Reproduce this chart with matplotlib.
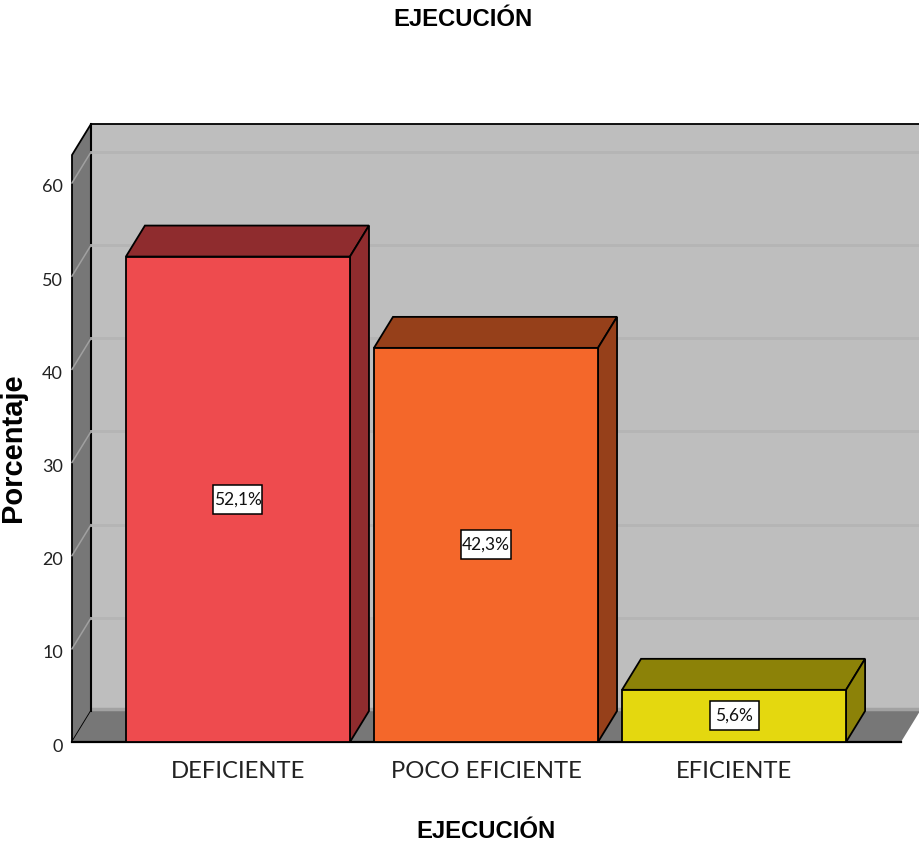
import matplotlib
matplotlib.use("Agg")
import matplotlib.pyplot as plt
from matplotlib.patches import Polygon, Rectangle
from matplotlib.transforms import ScaledTranslation

categories = ['DEFICIENTE', 'POCO EFICIENTE', 'EFICIENTE']
values = [52.1, 42.3, 5.6]
value_labels = ['52,1%', '42,3%', '5,6%']
front_colors = ['#EE4B4E', '#F4672A', '#E4D80F']
side_colors = ['#8F2C2E', '#96401A', '#8C8208']
y_ticks = [0, 10, 20, 30, 40, 50, 60]

thin = 'Lato'
W, H = 919, 852

# depth of the fake 3d box, in data units
dx = 19 / 248
dy = 31 / 9.32
bar_w = 224 / 248
xmin, xmax = -0.669, 2.673
ymax = 63
box_w = 49 / 248
box_h = 29 / 9.32


def poly(ax, pts, color, z, edge='black', lw=1.3):
    ax.add_patch(Polygon(pts, closed=True, facecolor=color, edgecolor=edge,
                         linewidth=lw, zorder=z, clip_on=False))


fig = plt.figure(figsize=(W / 100, H / 100), dpi=100)
ax = fig.add_axes([72 / W, (H - 742) / H, (901 - 72) / W, (742 - 155) / H])
ax.set_xlim(xmin, xmax)
ax.set_ylim(0, ymax)
for s in ax.spines.values():
    s.set_visible(False)
ax.patch.set_visible(False)

# walls and floor
poly(ax, [(xmin + dx, dy), (xmax + dx, dy), (xmax + dx, ymax + dy), (xmin + dx, ymax + dy)], '#BEBEBE', 1, edge='none')
poly(ax, [(xmin, 0), (xmin + dx, dy), (xmin + dx, ymax + dy), (xmin, ymax)], '#777777', 2)
poly(ax, [(xmin, 0), (xmax, 0), (xmax + dx, dy), (xmin + dx, dy)], '#777777', 2, edge='none')
ax.plot([xmin + dx, xmax + dx], [dy + 0.25, dy + 0.25], color='#A2A2A2', lw=2.5, zorder=3, clip_on=False, solid_capstyle='butt')
ax.plot([xmin, xmax], [0, 0], color='black', lw=1.6, zorder=3, clip_on=False)
ax.plot([xmin + dx, xmax + dx], [ymax + dy, ymax + dy], color='black', lw=1.3, zorder=3, clip_on=False)
ax.plot([xmin + dx, xmin + dx], [dy, ymax + dy], color='black', lw=1.5, zorder=3, clip_on=False)

# gridlines, back wall plus the slanted bit on the side wall
for t in y_ticks[1:]:
    ax.plot([xmin + dx, xmax + dx], [t + dy, t + dy], color='#B5B5B5', lw=2, zorder=3, clip_on=False)
    ax.plot([xmin, xmin + dx], [t, t + dy], color='#A0A0A0', lw=1.1, zorder=3, clip_on=False)

# bars
pos = list(range(len(categories)))
ax.bar(pos, values, width=bar_w, color=front_colors, edgecolor='black', linewidth=1.3, zorder=6)
for i, v in enumerate(values):
    l = i - bar_w / 2
    r = i + bar_w / 2
    poly(ax, [(l, v), (r, v), (r + dx, v + dy), (l + dx, v + dy)], side_colors[i], 5)
    poly(ax, [(r, 0), (r + dx, dy), (r + dx, v + dy), (r, v)], side_colors[i], 5)
    ax.add_patch(Rectangle((i - box_w / 2, v / 2 - box_h / 2), box_w, box_h, facecolor='white',
                           edgecolor='black', linewidth=1.1, zorder=7))
    ax.text(i, v / 2, value_labels[i], ha='center', va='center', fontsize=12.5, family=thin,
            color='#111111', zorder=8)

ax.set_xticks(pos)
ax.set_xticklabels(categories, fontsize=17.2, family=thin, color='#222222')
ax.set_yticks(y_ticks)
ax.set_yticklabels([str(t) for t in y_ticks], fontsize=13, family=thin, color='#222222')
ax.tick_params(axis='both', length=0)
ax.tick_params(axis='x', pad=14)
ax.tick_params(axis='y', pad=6.5)
for lab in ax.get_yticklabels():
    lab.set_transform(lab.get_transform() + ScaledTranslation(0, -3 / 100, fig.dpi_scale_trans))

fig.text(463 / W, 1 - 20 / H, 'EJECUCIÓN', ha='center', va='center', fontsize=17.2,
         fontweight='bold', family='Liberation Sans')
fig.text(486 / W, 1 - 831 / H, 'EJECUCIÓN', ha='center', va='center', fontsize=17.2,
         fontweight='bold', family='Liberation Sans')
fig.text(13 / W, 1 - 448 / H, 'Porcentaje', rotation=90, ha='center', va='center', fontsize=21,
         fontweight='bold', family='Liberation Sans')

fig.savefig('out.png', dpi=100)
